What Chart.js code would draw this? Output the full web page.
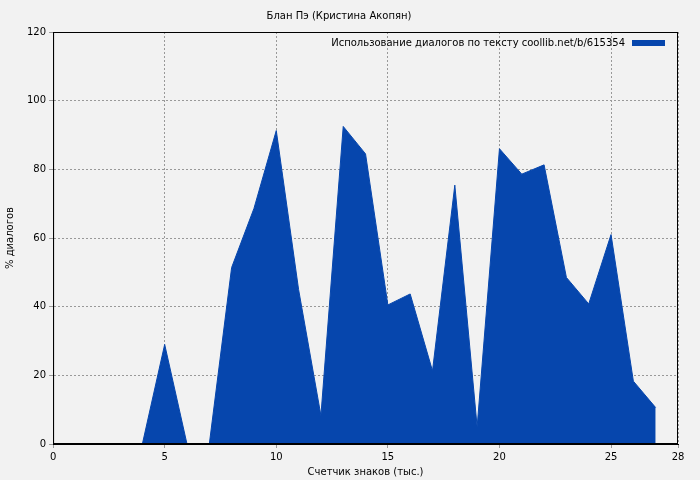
<!DOCTYPE html>
<html><head><meta charset="utf-8">
<script src="https://cdn.jsdelivr.net/npm/chart.js@4"></script>
<style>body{margin:0;background:#f2f2f2}#w{width:700px;height:480px}</style>
</head><body><div id="w"><canvas id="c"></canvas></div>
<script>
const xs = [0,1,2,3,4,5,6,7,8,9,10,11,12,13,14,15,16,17,18,19,20,21,22,23,24,25,26,27];
const ys = [0,0,0,0,0,29,0,0,51.4,68.6,91.3,45,8.3,92.5,84.5,40.5,43.7,21.3,75.4,5,86,78.6,81.3,48.5,40.8,61,18.3,10.6];
const seriesName = 'Использование диалогов по тексту coollib.net/b/615354';
const titleText = 'Блан Пэ (Кристина Акопян)';
const F = 'DejaVu Sans';
const legendPlugin = {id:'lg', afterDraw(ch){const c=ch.ctx,a=ch.chartArea;c.save();c.font='10px "'+F+'"';c.fillStyle='#000';c.textAlign='right';c.textBaseline='middle';c.fillText(seriesName,a.right-53,43);c.fillStyle='#0646ad';c.fillRect(a.right-46,40,33,6);c.strokeStyle='#000';c.lineWidth=1;c.strokeRect(a.left+0.5,a.top+0.5,a.right-a.left-1,a.bottom-a.top-1);c.restore();}};
new Chart(document.getElementById('c'),{type:'line',
data:{datasets:[{data:xs.map((x,i)=>({x,y:ys[i]})),fill:'origin',backgroundColor:'#0646ad',borderColor:'#0646ad',borderWidth:1,pointRadius:0,tension:0}]},
options:{responsive:true,maintainAspectRatio:false,animation:false,
layout:{padding:{right:22,top:0,left:0,bottom:2}},
plugins:{legend:{display:false},tooltip:{enabled:false},title:{display:true,text:titleText,color:'#000',font:{family:F,size:10,weight:'normal'},padding:{top:10,bottom:10}}},
scales:{x:{type:'linear',min:0,max:28,ticks:{stepSize:5,color:'#000',font:{family:F,size:10}},grid:{color:'#999',borderDash:[2,2],drawTicks:true,tickLength:4},border:{dash:[2,2],color:'#000'},title:{display:true,text:'Счетчик знаков (тыс.)',color:'#000',font:{family:F,size:10},padding:0}},
y:{min:0,max:120,ticks:{stepSize:20,color:'#000',font:{family:F,size:10}},grid:{color:'#999',tickLength:4},border:{dash:[2,2],color:'#000'},title:{display:true,text:'% диалогов',color:'#000',font:{family:F,size:10},padding:{bottom:8}}}}},
plugins:[legendPlugin]});
</script></body></html>
